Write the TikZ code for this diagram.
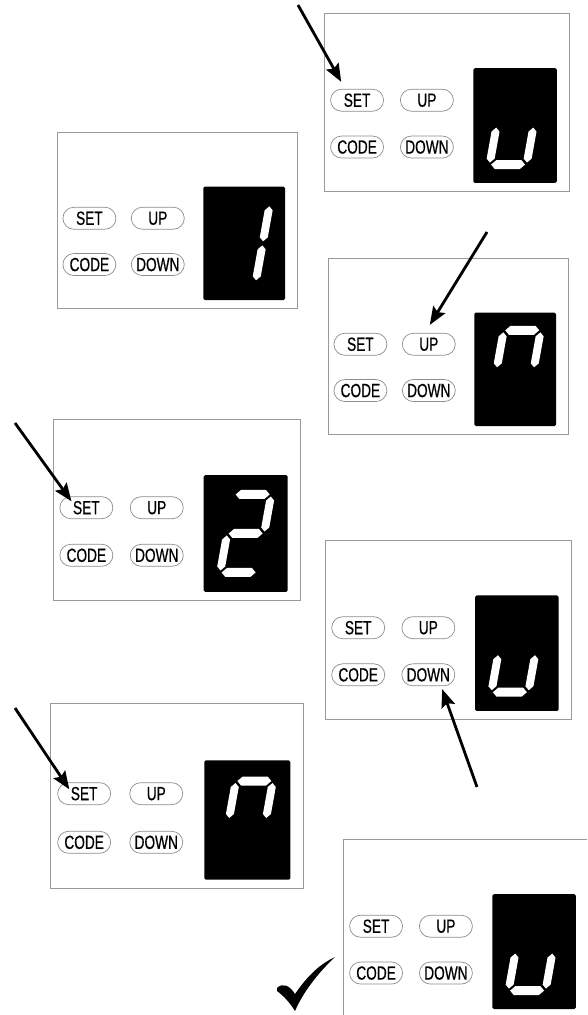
\documentclass[tikz,border=0pt]{standalone}
\usepackage{fontspec}
\usepackage{tikz}
\usetikzlibrary{arrows.meta}
\newfontfamily\keyfont{Liberation Sans}[FakeStretch=0.72, FakeBold=0.6]

\tikzset{
	panelbox/.style={draw=black!40, line width=0.9pt},
	lcd/.style={fill=black, rounded corners=1.5pt},
	key/.style={draw=black!45, line width=0.7pt, rounded corners=11pt, minimum width=53pt, minimum height=22pt, inner sep=0pt, font=\keyfont\fontsize{19}{19}\selectfont},
	push/.style={line width=2.8pt, -{Stealth[length=18pt,width=14pt,inset=3pt]}},
	hbar/.pic={\fill[white] (-17,0) -- (-12.5,-4.5) -- (12.5,-4.5) -- (17,0) -- (12.5,4.5) -- (-12.5,4.5) -- cycle;},
	vbar/.pic={\fill[white] (0,-17.5) -- (4,-13.5) -- (4,13.5) -- (0,17.5) -- (-4,13.5) -- (-4,-13.5) -- cycle;},
	seg a/.pic={\pic at (0,-39) {hbar};},
	seg g/.pic={\pic at (0,0) {hbar};},
	seg d/.pic={\pic at (0,39) {hbar};},
	seg f/.pic={\pic at (-18.5,-19.5) {vbar};},
	seg b/.pic={\pic at (18.5,-19.5) {vbar};},
	seg e/.pic={\pic at (-18.5,19.5) {vbar};},
	seg c/.pic={\pic at (18.5,19.5) {vbar};}
}

% #1 name, #2 x, #3 y, #4 width, #5 height, #6 lit segments
\newcommand{\panel}[6]{%
	\draw[panelbox] (#2,#3) rectangle ++(#4,#5);
	\fill[lcd] ({#2+0.61*#4},{#3+0.31*#5}) rectangle ({#2+0.95*#4},{#3+0.955*#5});
	\begin{scope}[shift={({#2+0.78*#4},{#3+0.6325*#5})}, xslant=0.18, transform shape]
		\foreach \s in {#6} {\pic {seg \s};}
	\end{scope}
	\node[key] (set#1) at ({#2+0.135*#4},{#3+0.49*#5}) {SET};
	\node[key] (up#1) at ({#2+0.42*#4},{#3+0.49*#5}) {UP};
	\node[key] (code#1) at ({#2+0.135*#4},{#3+0.753*#5}) {CODE};
	\node[key] (down#1) at ({#2+0.42*#4},{#3+0.753*#5}) {DOWN};
}

\begin{document}
\begin{tikzpicture}[x=1pt, y=-1pt]

	\useasboundingbox (0,0) rectangle (587,1015);
	\clip (0,0) rectangle (587,1015);

	\panel{A}{324}{13}{245}{178}{e,c,d}
	\panel{B}{57}{132}{240}{176}{b,c}
	\panel{C}{328}{258}{240}{176}{a,f,b}
	\panel{D}{53}{419}{247}{181}{a,b,g,e,d}
	\panel{E}{325}{540}{246}{179}{e,c,d}
	\panel{F}{50}{703}{253}{185}{a,f,b}
	\panel{G}{343}{839}{245}{178}{e,c,d}

	\coordinate (fromA) at (298,5);
	\coordinate (fromC) at (487,232);
	\coordinate (fromD) at (15,423);
	\coordinate (fromE) at (477,787);
	\coordinate (fromF) at (15,708);

	\draw[push] (fromA) -- ([xshift=11pt,yshift=7pt]setA.north west);
	\draw[push] (fromC) -- ([xshift=1pt,yshift=8pt]upC.north);
	\draw[push] (fromD) -- ([xshift=12pt,yshift=-5pt]setD.north west);
	\draw[push] (fromE) -- ([xshift=-13pt,yshift=-3pt]downE.south east);
	\draw[push] (fromF) -- ([xshift=12pt,yshift=-7pt]setF.north west);

	\fill (277,988) .. controls (283,982) and (290,986) .. (295,994)
		.. controls (306,978) and (318,965) .. (335,957)
		.. controls (321,970) and (304,990) .. (295,1011)
		.. controls (290,1003) and (284,996) .. (277,991) -- cycle;

\end{tikzpicture}
\end{document}
